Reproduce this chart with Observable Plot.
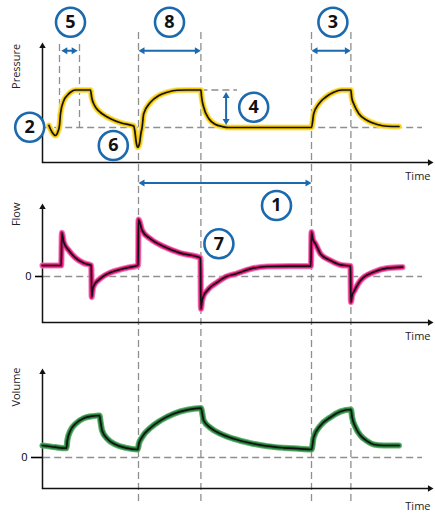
<!DOCTYPE html>
<html>
<head>
<meta charset="utf-8">
<script src="https://cdn.jsdelivr.net/npm/d3@7"></script>
<script src="https://cdn.jsdelivr.net/npm/@observablehq/plot@0.6"></script>
<style>
html, body { margin: 0; padding: 0; background: #fff; }
#chart { position: relative; width: 435px; height: 513px; overflow: hidden; }
</style>
</head>
<body>
<div id="chart"></div>
<script>
// ---------- DATA (time in arbitrary units, values per panel) ----------
const T_END = 97.75;
const eventTimes = [24, 39.6, 67.25, 77.1];      // long dashed lines (breath boundaries)
const riseTimes = [4.25, 9.25];                  // short dashed lines (rise time)

const pressure = [[1.6,14.8],[2.4,12.1],[3.25,10.8],[3.8,12.1],[4.25,14.8],[4.5,19.6],[5.33,24.8],[6.17,26.8],[7,28.1],[8.25,29],[9.25,29],[12,29],[12.3,26],[12.83,23.4],[13.5,21.6],[14.5,20],[15.75,18.6],[17,17.5],[19.5,15.9],[22.4,14.8],[22.8,14.6],[23.1,12.4],[23.4,8.4],[23.8,6.1],[24.25,7.6],[24.6,11.6],[24.9,14],[25.3,19.5],[27,24.1],[29.1,26.8],[31.2,28.1],[33.7,28.9],[36.2,29],[39.6,29],[39.75,26.5],[40.3,22.1],[41.6,17.5],[43.25,15.2],[44.9,14.4],[46.5,14],[67.25,14],[67.8,19.5],[69.1,23.5],[70.75,26.1],[72.8,28.1],[74.9,29],[77.1,29],[77.3,26],[77.8,23.5],[79.1,19.5],[81.2,16.8],[83.7,15.2],[86.2,14.5],[89.1,14.4]];

const flow = [[0,5.5],[4.67,5.5],[4.85,21.8],[5.3,17.2],[6.6,13],[8.25,9.3],[10.3,6.7],[12.2,5.5],[12.3,-10.3],[12.55,-6.5],[13,-4],[14,-1.8],[15.5,0.5],[17,2],[19,3.3],[21,4.3],[23.9,5.6],[24,28.5],[24.9,23],[27,18.8],[30.3,15],[34.5,11.7],[39.5,9.3],[39.6,-16.2],[39.9,-12],[40.3,-9.5],[41.2,-7],[42,-5.3],[43.6,-3],[46,0],[48.3,1.3],[52,3.8],[56.2,5],[62,5.2],[67.1,5.2],[67.25,22.2],[67.6,18.5],[68.25,16.3],[69.5,11.3],[72,8],[74.5,5.8],[77,5.2],[77.1,-12.8],[77.4,-9.5],[78,-7],[79.5,-2],[82.8,2.2],[86.2,4.2],[90,4.7]];

const volume = [[0,6],[3.25,5.15],[5.75,4.65],[6,4.75],[6.2,8.5],[7,13.5],[8.25,16.85],[10.3,19.65],[12.4,20.65],[14.25,21],[14.5,18],[14.9,13.5],[16.2,9.35],[18.25,6.5],[20.75,4.85],[23.8,4],[24.1,6.85],[24.9,10.15],[27,14.85],[29.5,18.5],[32.8,21.85],[36.2,23.85],[39.6,24.65],[40.3,18.5],[42,14.85],[44.5,11.85],[47.8,9.35],[52,7.15],[56.2,5.65],[60.3,4.85],[64.5,4.35],[67.25,4],[67.8,10.15],[69.5,16],[72,20.15],[74.5,23],[77.1,24],[77.4,20.15],[78.25,15.15],[79.5,11],[81.2,8.15],[82.8,6.5],[85.3,6],[89.1,6]];

// numbered badges: label, time, value
const pressureBadges = [["5",7,56.1],["8",31.75,56.1],["3",72.6,56.1],["4",52.8,22.1],["2",-3.2,14.1],["6",17.7,6.8]];
const flowBadges = [["1",58.5,35.5],["7",44.1,16.35]];

// measurement arrows: [t1, t2, value]
const pressureSpans = [[4.7,8.8,44.7],[24,39.6,44.7],[67.25,77.1,44.7]];
const pressureVertical = [[45.9,15.0,28.2]];      // [t, v1 (bottom), v2 (top)]
const flowSpans = [[24,67.25,46.7]];

const PEEP = 14, PEAK = 29;

// ---------- STYLE ----------
const FONT = "'Open Sans', 'Noto Sans', sans-serif";
const BLUE = "#1c6aae";
const INK = "#111";
const DASH = "#8f8f8f";
const chart = document.getElementById("chart");

function curveMarks(data, outer, inner) {
  const base = {x: d => d[0], y: d => d[1], curve: "monotone-x", strokeLinejoin: "round", strokeLinecap: "round"};
  return [
    Plot.line(data, {...base, stroke: outer, strokeWidth: 6.2}),
    Plot.line(data, {...base, stroke: inner, strokeWidth: 4.2}),
    Plot.line(data, {...base, stroke: INK, strokeWidth: 1.7})
  ];
}

function axisMarks(bottom, top) {
  return [
    Plot.arrow([0], {x1: 0, y1: bottom, x2: 0, y2: top, stroke: INK, strokeWidth: 1.5, headLength: 0, insetEnd: 3}),
    Plot.arrow([0], {x1: 0, y1: bottom, x2: T_END, y2: bottom, stroke: INK, strokeWidth: 1.5, headLength: 0, insetEnd: 3}),
    Plot.dot([0], {x: 0, y: top, symbol: "triangle", r: 2.4, rotate: 0, dy: 3.7, fill: INK, stroke: "none"}),
    Plot.dot([0], {x: T_END, y: bottom, symbol: "triangle", r: 2.4, rotate: 90, dx: -3.7, fill: INK, stroke: "none"})
  ];
}

function spanMarks(spans) {
  return [
    Plot.arrow(spans, {x1: d => d[0], x2: d => d[1], y1: d => d[2], y2: d => d[2], stroke: BLUE, strokeWidth: 2, headLength: 0, inset: 3}),
    Plot.dot(spans, {x: d => d[0], y: d => d[2], symbol: "triangle", r: 2.6, rotate: -90, dx: 4, fill: BLUE, stroke: "none"}),
    Plot.dot(spans, {x: d => d[1], y: d => d[2], symbol: "triangle", r: 2.6, rotate: 90, dx: -4, fill: BLUE, stroke: "none"})
  ];
}

function verticalSpanMarks(spans) {
  return [
    Plot.arrow(spans, {x1: d => d[0], x2: d => d[0], y1: d => d[1], y2: d => d[2], stroke: BLUE, strokeWidth: 2, headLength: 0, inset: 3}),
    Plot.dot(spans, {x: d => d[0], y: d => d[1], symbol: "triangle", r: 2.6, rotate: 180, dy: -4, fill: BLUE, stroke: "none"}),
    Plot.dot(spans, {x: d => d[0], y: d => d[2], symbol: "triangle", r: 2.6, rotate: 0, dy: 4, fill: BLUE, stroke: "none"})
  ];
}

function badgeMarks(badges) {
  return [
    Plot.dot(badges, {x: d => d[1], y: d => d[2], r: 14.5, fill: "white", stroke: BLUE, strokeWidth: 2.6}),
    Plot.text(badges, {x: d => d[1], y: d => d[2], text: d => d[0], fontSize: 18, fontWeight: "bold", fill: INK, fontFamily: FONT})
  ];
}

function titleMark(label, yTop) {
  return Plot.text([label], {x: -6.5, y: yTop, text: d => d, rotate: -90, textAnchor: "end", fontSize: 11, fill: "#222", fontFamily: FONT});
}

function timeMark(yVal) {
  return Plot.text(["Time"], {x: 97, y: yVal, text: d => d, textAnchor: "end", fontSize: 11, fill: "#222", fontFamily: FONT});
}

function panel(top, height, domain, marks) {
  const svg = Plot.plot({
    width: 435, height,
    marginLeft: 42, marginRight: 2, marginTop: 0, marginBottom: 0,
    x: {domain: [0, T_END], axis: null},
    y: {domain, axis: null},
    style: {fontFamily: FONT, background: "transparent", overflow: "visible"},
    marks
  });
  svg.style.position = "absolute";
  svg.style.left = "0px";
  svg.style.top = top + "px";
  svg.style.overflow = "visible";
  svg.style.background = "transparent";
  chart.append(svg);
}

const dashed = {stroke: DASH, strokeWidth: 1.3, strokeDasharray: "7,4"};

// ---------- PRESSURE ----------
panel(0, 180, [-7.2, 64.8], [
  Plot.ruleX(eventTimes, {x: d => d, y1: 52, y2: -137.2, ...dashed}),
  Plot.ruleX(riseTimes, {x: d => d, y1: 47.2, y2: PEEP, ...dashed}),
  Plot.ruleY([PEEP], {y: d => d, x1: 0.3, x2: 95, ...dashed}),
  Plot.ruleY([PEAK], {y: d => d, x1: 39.6, x2: 48.75, ...dashed}),
  ...axisMarks(0, 48),
  ...curveMarks(pressure, "#fbe46e", "#f3c600"),
  ...spanMarks(pressureSpans),
  ...verticalSpanMarks(pressureVertical),
  titleMark("Pressure", 47.5),
  timeMark(-5.6),
  ...badgeMarks(pressureBadges)
]);

// ---------- FLOW ----------
panel(180, 160, [-32, 48], [
  Plot.ruleY([0], {y: d => d, x1: 0.3, x2: 95, ...dashed}),
  ...axisMarks(-23, 36.5),
  Plot.axisY({ticks: [0], tickSize: 7, tickPadding: 4, label: null, fontSize: 11, strokeWidth: 1.6, fontFamily: FONT}),
  ...curveMarks(flow, "#f27db7", "#e0167b"),
  ...spanMarks(flowSpans),
  titleMark("Flow", 37),
  timeMark(-29.75),
  ...badgeMarks(flowBadges)
]);

// ---------- VOLUME ----------
panel(340, 173, [-28, 58.5], [
  Plot.ruleY([0], {y: d => d, x1: 0.3, x2: 95, ...dashed}),
  ...axisMarks(-15.5, 44.5),
  Plot.axisY({ticks: [0], tickSize: 11, tickPadding: 4, label: null, fontSize: 11, strokeWidth: 1.6, fontFamily: FONT}),
  ...curveMarks(volume, "#62b272", "#24803a"),
  titleMark("Volume", 45),
  timeMark(-24.4)
]);
</script>
</body>
</html>
